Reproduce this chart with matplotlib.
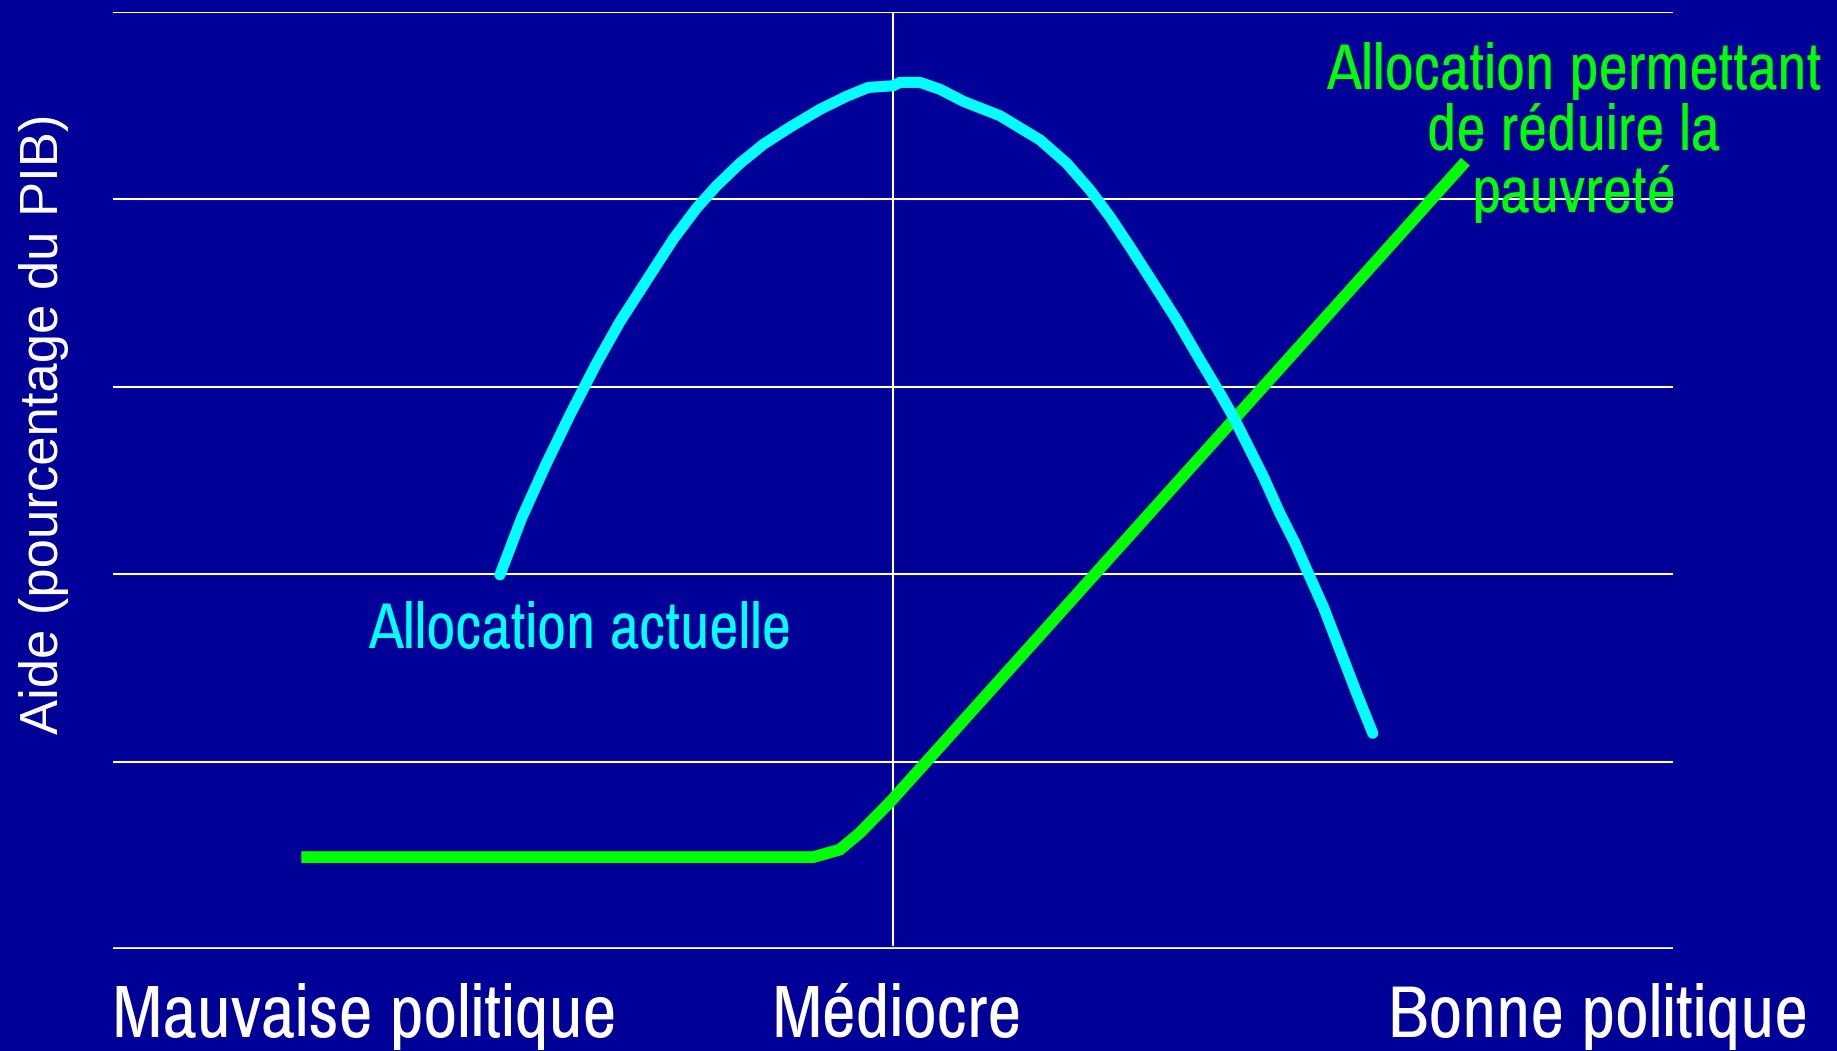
import matplotlib.pyplot as plt
from matplotlib import font_manager

# policy scale 0..10 (5 = médiocre), aid scale 0..5 (one unit per gridline)
current_x = [2.483, 2.622, 2.782, 2.932, 3.103, 3.252, 3.423, 3.594, 3.744, 3.872,
             4.021, 4.170, 4.342, 4.534, 4.705, 4.843, 5.003, 5.046, 5.175, 5.303,
             5.452, 5.687, 5.944, 6.115, 6.264, 6.392, 6.520, 6.670, 6.820, 6.969,
             7.097, 7.182, 7.268, 7.375, 7.481, 7.578, 7.663, 7.759, 7.866, 7.973, 8.076]
current_y = [1.996, 2.299, 2.593, 2.850, 3.126, 3.346, 3.567, 3.787, 3.953, 4.072,
             4.191, 4.292, 4.384, 4.479, 4.549, 4.596, 4.605, 4.623, 4.623, 4.586,
             4.522, 4.445, 4.316, 4.191, 4.049, 3.906, 3.746, 3.551, 3.355, 3.142,
             2.964, 2.840, 2.698, 2.520, 2.324, 2.164, 2.004, 1.826, 1.595, 1.364, 1.151]

poverty_x = [1.21, 4.49, 4.66, 4.79, 4.99, 8.67]
poverty_y = [0.49, 0.49, 0.53, 0.62, 0.79, 4.20]

x_labels = ['Mauvaise politique', 'Médiocre', 'Bonne politique']
y_label = 'Aide (pourcentage du PIB)'
current_label = 'Allocation actuelle'
poverty_label = ['Allocation permettant', 'de réduire la', 'pauvreté']

bg = '#000099'
cyan = '#00ffff'
green = '#00ff00'

# narrow sans for the labels, whichever is installed
names = {f.name for f in font_manager.fontManager.ttflist}
narrow = 'Liberation Sans'
for cand in ['Liberation Sans Narrow', 'Arial Narrow', 'Pragati Narrow', 'Archivo Narrow',
             'PT Sans Narrow', 'Roboto Condensed', 'IBM Plex Sans Condensed',
             'Open Sans Condensed']:
    if cand in names:
        narrow = cand
        break
plt.rcParams['font.family'] = [narrow, 'DejaVu Sans']

W, H = 1837, 1051
fig = plt.figure(figsize=(W / 100, H / 100), dpi=100, facecolor=bg)
ax = fig.add_axes([112.5 / W, 1 - 949 / H, (1673 - 112.5) / W, (949 - 11.7) / H])
ax.set_facecolor(bg)
ax.set_xlim(0, 10)
ax.set_ylim(0, 5)
ax.axis('off')

for yv in range(1, 6):
    ax.axhline(yv, color='white', lw=1.5, zorder=1)
ax.axhline(0, color='white', lw=2.6, zorder=1)
ax.plot([5, 5], [0.02, 5], color='white', lw=1.5, zorder=1)

ax.plot(poverty_x, poverty_y, color=green, lw=8.5, solid_capstyle='butt',
        solid_joinstyle='miter', zorder=3)
ax.plot(current_x, current_y, color=cyan, lw=8, solid_capstyle='round',
        solid_joinstyle='round', zorder=4)

renderer = fig.canvas.get_renderer()


def fx(px):
    return px / W


def fy(py):
    return 1 - py / H


def fit_size(s, width_px, family=None, rotation=0):
    # font size that gives the text the wanted length in pixels
    kw = {'family': family} if family else {}
    t = fig.text(0, 0, s, fontsize=40, rotation=rotation, **kw)
    bb = t.get_window_extent(renderer)
    t.remove()
    size = bb.height if rotation else bb.width
    return 40 * width_px / size


xs = fit_size(x_labels[0], 503)
fig.text(fx(112), fy(1037), x_labels[0], color='white', fontsize=xs,
         ha='left', va='baseline')
fig.text(fx(897), fy(1037), x_labels[1], color='white', fontsize=xs,
         ha='center', va='baseline')
fig.text(fx(1808), fy(1037), x_labels[2], color='white', fontsize=xs,
         ha='right', va='baseline')

yfam = ['Liberation Sans', 'DejaVu Sans']
ys = fit_size(y_label, 620, family=yfam, rotation=90)
fig.text(fx(44), fy(424), y_label, color='white', fontsize=ys, rotation=90,
         ha='center', va='center', family=yfam)

cs = fit_size(current_label, 422)
fig.text(fx(580), fy(648), current_label, color=cyan, fontsize=cs,
         ha='center', va='baseline')

ps = fit_size(poverty_label[0], 494)
for line, base in zip(poverty_label, [89, 150, 212]):
    fig.text(fx(1574), fy(base), line, color=green, fontsize=ps,
             ha='center', va='baseline')

fig.savefig('out.png', dpi=100, facecolor=bg)
